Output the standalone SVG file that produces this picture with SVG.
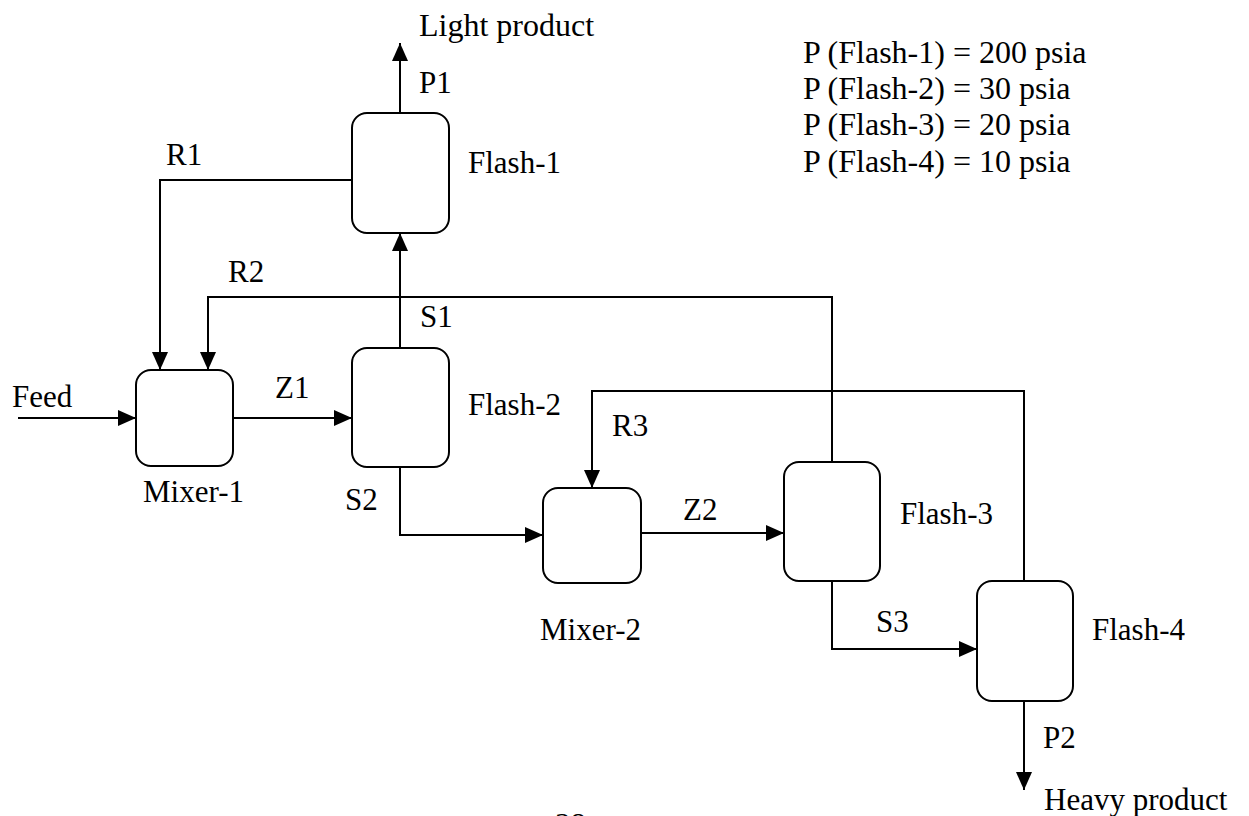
<svg xmlns="http://www.w3.org/2000/svg" width="1249" height="816" viewBox="0 0 1249 816">
<style>
text{font-family:"Liberation Serif",Tinos,"DejaVu Serif",serif;font-size:31px;fill:#000}
.big{font-size:32px}
.box{fill:#fff;stroke:#000;stroke-width:2}
.ln{fill:none;stroke:#000;stroke-width:2}
.ar{marker-end:url(#ah)}
</style>
<defs>
<marker id="ah" markerUnits="userSpaceOnUse" markerWidth="18" markerHeight="18" viewBox="0 0 18 16" refX="18" refY="8" orient="auto">
<path d="M0,0 L18,8 L0,16 Z" fill="#000"/>
</marker>
</defs>
<rect width="1249" height="816" fill="#fff"/>
<g id="connectors">
<path class="ln ar" d="M400,113 V43"/>
<path class="ln ar" d="M352,180 H160 V370"/>
<path class="ln ar" d="M832,462 V297 H208 V370"/>
<path class="ln ar" d="M400,348 V233"/>
<path class="ln ar" d="M18,418 H136"/>
<path class="ln ar" d="M233,418 H352"/>
<path class="ln ar" d="M400,467 V535 H543"/>
<path class="ln ar" d="M1024,581 V391 H592 V488"/>
<path class="ln ar" d="M641,533 H784"/>
<path class="ln ar" d="M832,581 V649 H977"/>
<path class="ln ar" d="M1024,701 V790"/>
</g>
<g id="flash1"><rect class="box" x="352" y="113" width="97" height="120" rx="15"/><text x="468" y="173">Flash-1</text></g>
<g id="flash2"><rect class="box" x="352" y="348" width="97" height="119" rx="15"/><text x="468" y="415">Flash-2</text></g>
<g id="mixer1"><rect class="box" x="136" y="370" width="97" height="96" rx="15"/><text x="143" y="502">Mixer-1</text></g>
<g id="mixer2"><rect class="box" x="543" y="488" width="98" height="95" rx="15"/><text x="540" y="640">Mixer-2</text></g>
<g id="flash3"><rect class="box" x="784" y="462" width="96" height="119" rx="15"/><text x="900" y="524">Flash-3</text></g>
<g id="flash4"><rect class="box" x="977" y="581" width="96" height="120" rx="15"/><text x="1092" y="640">Flash-4</text></g>
<g id="labels">
<text class="big" x="419" y="36">Light product</text>
<text x="419" y="93">P1</text>
<text x="166" y="165">R1</text>
<text x="228" y="282">R2</text>
<text x="420" y="327">S1</text>
<text x="12" y="407">Feed</text>
<text x="275" y="398">Z1</text>
<text x="345" y="510">S2</text>
<text x="612" y="436">R3</text>
<text x="683" y="520">Z2</text>
<text x="876" y="632">S3</text>
<text x="1043" y="748">P2</text>
<text x="1044" y="810" font-size="30">Heavy product</text>
<text class="big" x="803" y="63">P (Flash-1) = 200 psia</text>
<text class="big" x="803" y="99">P (Flash-2) = 30 psia</text>
<text class="big" x="803" y="135">P (Flash-3) = 20 psia</text>
<text class="big" x="803" y="172">P (Flash-4) = 10 psia</text>
<text x="555" y="835">38</text>
</g>
</svg>
